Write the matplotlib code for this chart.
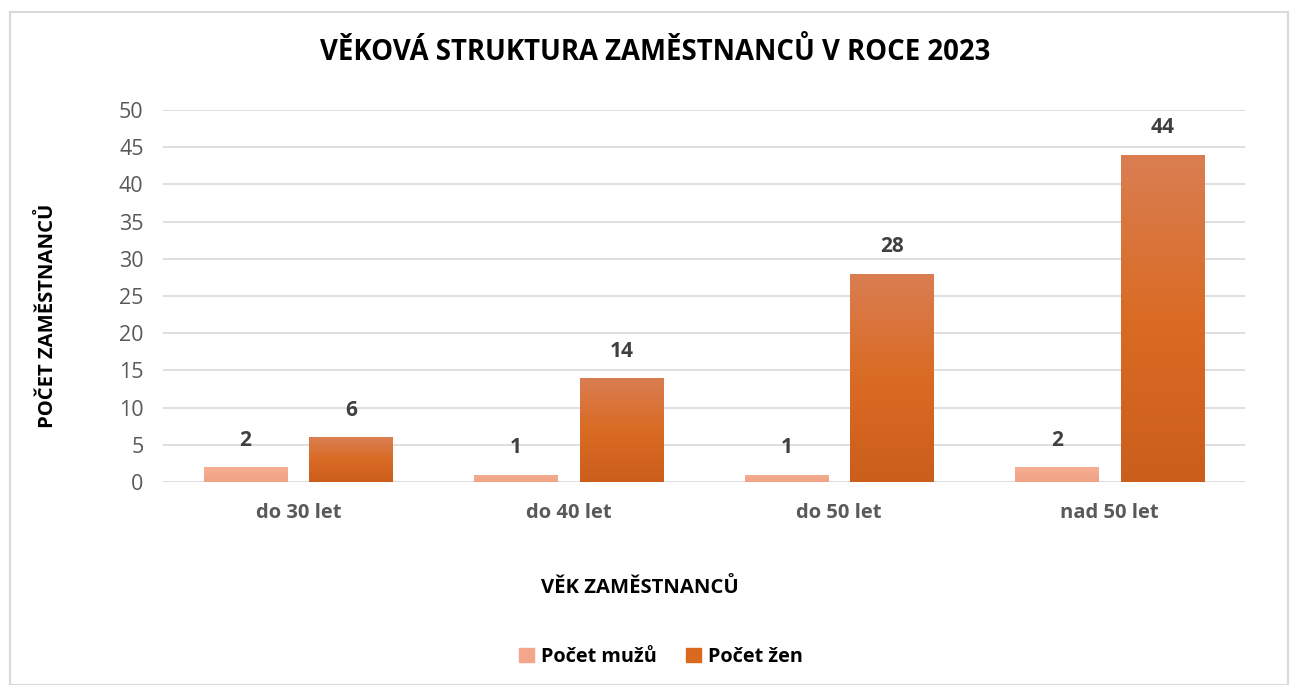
import matplotlib
matplotlib.use("Agg")
import matplotlib.pyplot as plt
import numpy as np
from matplotlib.patches import Rectangle
from matplotlib.colors import LinearSegmentedColormap

plt.rcParams['font.family'] = ['Open Sans', 'DejaVu Sans']

categories = ["do 30 let", "do 40 let", "do 50 let", "nad 50 let"]
muzi = [2, 1, 1, 2]
zeny = [6, 14, 28, 44]
series_names = ["Počet mužů", "Počet žen"]
yticks = [0, 5, 10, 15, 20, 25, 30, 35, 40, 45, 50]

W, H = 1292, 685
fig = plt.figure(figsize=(W / 100, H / 100), dpi=100)
ax = fig.add_axes([163 / W, 1 - 482 / H, (1245 - 163) / W, (482 - 110) / H])

x = np.arange(len(categories))
bw = 0.31
off = 0.195
cm_m = LinearSegmentedColormap.from_list("m", ["#F0A284", "#F6AE93"])
cm_z = LinearSegmentedColormap.from_list("z", ["#CC5E1C", "#D96B24", "#DA7E52"])
col_m = "#F4A68A"
col_z = "#D8691F"

grad = np.linspace(0, 1, 256).reshape(-1, 1)

def gbar(xc, h, cmap):
    ax.bar(xc, h, bw, color="none", zorder=3)
    im = ax.imshow(grad, extent=[xc - bw / 2, xc + bw / 2, 0, h], origin="lower",
                   cmap=cmap, aspect="auto", zorder=3)
    r = Rectangle((xc - bw / 2, 0), bw, h, transform=ax.transData)
    im.set_clip_path(r)

for i in range(len(categories)):
    gbar(x[i] - off, muzi[i], cm_m)
    gbar(x[i] + off, zeny[i], cm_z)
    ax.text(x[i] - off, muzi[i] + 3.6, str(muzi[i]), ha="center", va="center",
            fontsize=15, fontweight="bold", color="#404040")
    ax.text(x[i] + off, zeny[i] + 3.6, str(zeny[i]), ha="center", va="center",
            fontsize=15, fontweight="bold", color="#404040")

ax.set_xlim(-0.5, len(categories) - 0.5)
ax.set_ylim(0, 50)
ax.set_yticks(yticks)
ax.set_xticks(x)
ax.set_xticklabels(categories, fontsize=14.5, fontweight="bold", color="#595959")
ax.tick_params(axis="y", labelsize=15.5, labelcolor="#595959", length=0, pad=14)
ax.tick_params(axis="x", length=0, pad=15)
ax.yaxis.grid(True, color="#D9D9D9", linewidth=1.2)
ax.set_axisbelow(True)
for s in ax.spines.values():
    s.set_visible(False)

fig.text(655 / W, 1 - 53 / H, "VĚKOVÁ STRUKTURA ZAMĚSTNANCŮ V ROCE 2023",
         ha="center", va="center", fontsize=19.8, fontweight="bold", color="#000000")
fig.text(48 / W, 1 - 316 / H, "POČET ZAMĚSTNANCŮ", rotation=90,
         ha="center", va="center", fontsize=14.6, fontweight="bold", color="#000000")
fig.text(640 / W, 1 - 588 / H, "VĚK ZAMĚSTNANCŮ",
         ha="center", va="center", fontsize=14.6, fontweight="bold", color="#000000")

handles = [Rectangle((0, 0), 1, 1, color=col_m), Rectangle((0, 0), 1, 1, color=col_z)]
fig.legend(handles, series_names, loc="center", bbox_to_anchor=(661 / W, 1 - 657 / H),
           ncol=2, frameon=False, prop={"size": 14.3, "weight": "bold"},
           handlelength=0.75, handleheight=0.75, columnspacing=1.5, handletextpad=0.35)

fig.patches.append(Rectangle((10 / W, 0), (1288 - 10) / W, 1 - 12 / H,
                             transform=fig.transFigure, fill=False,
                             edgecolor="#D9D9D9", linewidth=1.5))

fig.savefig("out.png", dpi=100)
